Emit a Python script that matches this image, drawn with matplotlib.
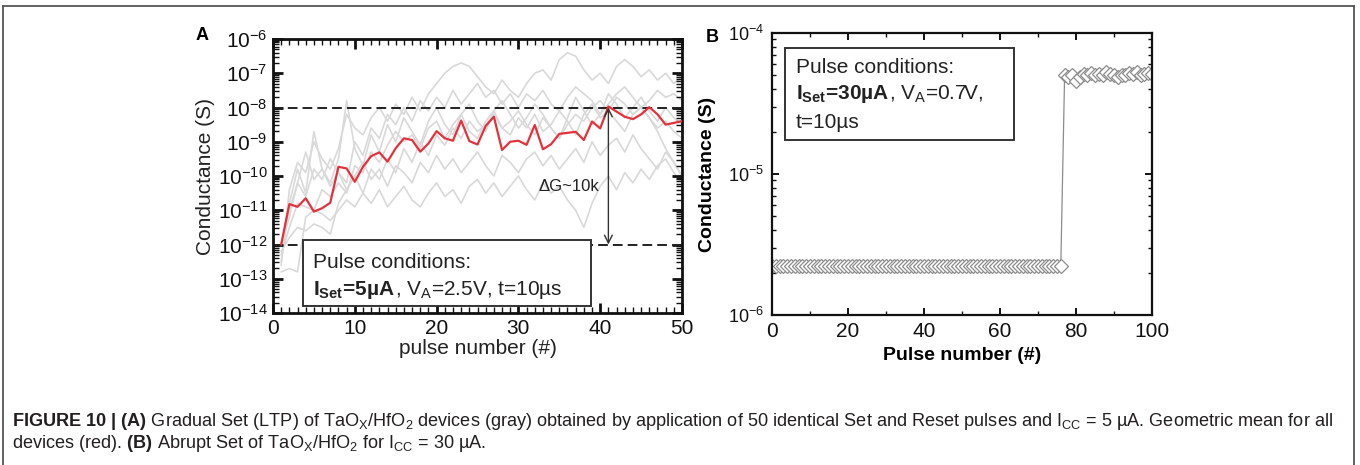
import numpy as np
import matplotlib
matplotlib.use("Agg")
import matplotlib.pyplot as plt
from matplotlib.ticker import LogLocator, MultipleLocator, NullFormatter, LogFormatterMathtext
from matplotlib.patches import Rectangle
from matplotlib.lines import Line2D

plt.rcParams['font.family'] = 'Liberation Sans'
plt.rcParams['mathtext.fontset'] = 'custom'
plt.rcParams['mathtext.rm'] = 'Liberation Sans'
plt.rcParams['mathtext.it'] = 'Liberation Sans:italic'
plt.rcParams['mathtext.bf'] = 'Liberation Sans:bold'
plt.rcParams['mathtext.default'] = 'regular'

###########################################################################
#                                 Data                                    #
###########################################################################

# panel A : log10 of conductance (S), pulses 1..50
pulse_a = np.arange(1, 51)

mean_red = [-12.0, -10.82, -10.90, -10.65, -11.04, -10.94, -10.78, -9.73, -9.78, -10.17,
            -9.73, -9.42, -9.31, -9.58, -9.19, -8.90, -8.95, -9.29, -9.05, -8.69,
            -8.90, -8.97, -8.38, -8.98, -9.08, -8.54, -8.27, -9.24, -9.00, -8.97,
            -9.09, -8.51, -9.22, -9.07, -8.77, -8.74, -8.71, -8.95, -8.41, -8.61,
            -7.97, -8.12, -8.27, -8.34, -8.20, -7.99, -8.20, -8.50, -8.45, -8.40]

gray_1 = [-12.6, -10.4, -9.6, -9.9, -9.0, -9.5, -9.8, -9.2, -8.2, -8.6,
          -8.8, -8.3, -8.0, -8.4, -7.9, -8.2, -7.7, -8.1, -7.6, -7.3,
          -7.0, -6.8, -6.7, -6.8, -7.1, -7.4, -7.6, -7.2, -7.5, -7.7,
          -7.3, -7.0, -6.9, -7.2, -6.6, -6.4, -6.5, -6.9, -7.2, -7.0,
          -7.3, -6.8, -6.6, -6.8, -7.1, -6.9, -7.2, -7.0, -7.3, -7.1]
gray_2 = [-12.0, -11.2, -10.2, -10.6, -9.8, -10.1, -9.5, -9.9, -10.2, -9.0,
          -9.4, -8.6, -8.9, -8.2, -8.5, -8.0, -8.4, -7.8, -8.1, -7.7,
          -8.0, -7.5, -7.9, -7.6, -7.3, -7.7, -7.5, -7.9, -7.6, -8.0,
          -7.6, -7.8, -7.5, -7.9, -8.1, -7.7, -7.4, -7.6, -7.8, -8.2,
          -7.9, -7.6, -7.4, -7.7, -8.0, -7.8, -7.5, -7.7, -7.6, -7.8]
gray_3 = [-12.3, -11.5, -10.8, -10.9, -11.0, -10.4, -10.6, -10.2, -10.5, -9.7,
          -9.9, -9.3, -9.6, -9.1, -8.7, -9.0, -8.8, -9.2, -8.6, -8.4,
          -8.9, -8.5, -8.2, -8.7, -8.9, -8.4, -8.1, -8.6, -8.8, -8.3,
          -8.6, -8.2, -8.7, -8.5, -8.1, -8.4, -8.8, -8.2, -7.9, -8.3,
          -8.1, -8.4, -8.7, -8.2, -8.0, -8.3, -8.6, -8.4, -8.7, -8.9]
gray_4 = [-12.0, -11.0, -10.2, -9.3, -10.1, -9.8, -10.3, -9.9, -10.4, -10.0,
          -9.6, -10.1, -9.8, -10.3, -9.7, -9.9, -10.2, -9.6, -9.9, -9.4,
          -9.8, -9.5, -9.9, -9.6, -9.3, -9.7, -10.0, -9.4, -9.6, -9.9,
          -9.5, -9.3, -9.7, -9.4, -9.8, -9.5, -9.2, -9.6, -9.0, -9.4,
          -9.1, -8.9, -9.3, -8.8, -9.2, -9.5, -9.8, -9.3, -9.6, -10.0]
gray_5 = [-12.8, -12.7, -12.8, -11.2, -11.0, -11.1, -11.3, -11.0, -10.7, -10.9,
          -10.5, -10.8, -10.4, -10.9, -10.6, -10.3, -10.7, -10.9, -10.5, -10.2,
          -10.6, -10.4, -10.8, -10.3, -10.1, -10.5, -10.2, -10.6, -10.3, -10.0,
          -10.4, -10.7, -10.2, -10.5, -10.3, -10.7, -11.0, -11.5, -10.8, -10.3,
          -10.0, -10.4, -9.9, -10.2, -9.8, -10.1, -9.7, -9.5, -9.9, -10.2]
gray_6 = [-12.2, -11.8, -11.5, -11.6, -11.4, -11.5, -11.7, -10.8, -10.4, -10.0,
          -10.5, -9.8, -10.1, -9.5, -9.9, -9.2, -9.6, -9.0, -9.4, -8.8,
          -9.1, -8.6, -8.9, -8.4, -8.7, -8.5, -8.2, -8.6, -8.4, -8.1,
          -8.5, -8.8, -8.3, -8.6, -8.9, -8.5, -8.2, -8.4, -8.0, -7.8,
          -8.1, -7.7, -7.9, -8.2, -8.0, -8.3, -8.7, -9.2, -9.6, -10.0]
gray_7 = [-12.5, -10.8, -9.8, -10.5, -8.7, -9.8, -10.2, -9.5, -7.8, -9.2,
          -9.7, -8.8, -9.3, -8.5, -9.0, -8.3, -8.7, -9.1, -8.4, -8.0,
          -8.5, -8.8, -8.2, -7.9, -8.4, -8.7, -8.1, -7.8, -8.2, -8.6,
          -8.3, -7.9, -8.2, -8.6, -8.9, -8.3, -7.7, -8.1, -8.5, -8.2,
          -7.6, -7.9, -8.3, -8.0, -7.7, -8.1, -8.4, -8.0, -8.3, -8.5]
gray_devices = [gray_1, gray_2, gray_3, gray_4, gray_5, gray_6, gray_7]

g_high = 1e-8          # dashed guide lines
g_low = 1e-12
arrow_pulse = 41

# panel B : conductance (S), pulses 0..100
pulse_b = np.arange(0, 101)
cond_b = [2.23e-6, 2.23e-6, 2.22e-6, 2.23e-6, 2.23e-6, 2.24e-6, 2.23e-6, 2.23e-6, 2.22e-6, 2.23e-6,
          2.23e-6, 2.23e-6, 2.24e-6, 2.23e-6, 2.23e-6, 2.22e-6, 2.23e-6, 2.23e-6, 2.23e-6, 2.24e-6,
          2.23e-6, 2.23e-6, 2.22e-6, 2.23e-6, 2.23e-6, 2.23e-6, 2.23e-6, 2.24e-6, 2.23e-6, 2.23e-6,
          2.22e-6, 2.23e-6, 2.23e-6, 2.23e-6, 2.24e-6, 2.23e-6, 2.23e-6, 2.23e-6, 2.22e-6, 2.23e-6,
          2.23e-6, 2.23e-6, 2.23e-6, 2.24e-6, 2.23e-6, 2.23e-6, 2.22e-6, 2.23e-6, 2.23e-6, 2.23e-6,
          2.24e-6, 2.23e-6, 2.23e-6, 2.23e-6, 2.22e-6, 2.23e-6, 2.23e-6, 2.23e-6, 2.24e-6, 2.23e-6,
          2.23e-6, 2.23e-6, 2.22e-6, 2.23e-6, 2.23e-6, 2.23e-6, 2.24e-6, 2.23e-6, 2.23e-6, 2.23e-6,
          2.22e-6, 2.23e-6, 2.23e-6, 2.23e-6, 2.24e-6, 2.23e-6, 2.23e-6,
          5.0e-5, 4.9e-5, 5.0e-5, 4.6e-5, 4.9e-5, 5.1e-5, 5.0e-5, 5.2e-5, 5.0e-5, 5.1e-5,
          5.0e-5, 5.3e-5, 5.1e-5, 5.0e-5, 4.9e-5, 5.0e-5, 5.0e-5, 5.2e-5, 5.1e-5, 5.3e-5,
          5.0e-5, 5.1e-5, 5.2e-5, 5.1e-5]

caption_1 = (r"$\mathbf{FIGURE\ 10\ |\ (A)}$ Gradual Set (LTP) of TaO$_\mathrm{X}$/HfO$_2$ devices (gray) "
             r"obtained by application of 50 identical Set and Reset pulses and I$_\mathrm{CC}$ = 5 µA. "
             r"Geometric mean for all")
caption_2 = r"devices (red). $\mathbf{(B)}$ Abrupt Set of TaO$_\mathrm{X}$/HfO$_2$ for I$_\mathrm{CC}$ = 30 µA."

###########################################################################
#                                 Figure                                  #
###########################################################################

W, H = 1360, 465
fig = plt.figure(figsize=(W / 100, H / 100), dpi=100)
fig.patch.set_facecolor('white')

def px_axes(x0, y0, x1, y1):
    # pixel box (top-left origin) -> figure axes
    return fig.add_axes([x0 / W, 1 - y1 / H, (x1 - x0) / W, (y1 - y0) / H])

def bold_then_plain(ax, x, y, bold, plain):
    # bold part (non-math text picks up the weight), plain part glued after it
    t = ax.text(x, y, bold, transform=ax.transAxes, fontsize=15, fontweight='bold',
                va='center', ha='left', color='#222222', zorder=6)
    ax.annotate(plain, xy=(1, 0), xycoords=t, va='bottom', ha='left', fontsize=15,
                color='#222222', zorder=6)

# outer frame of the figure panel
frame_col = '#555555'
fig.add_artist(Line2D([3 / W, 1354 / W], [1 - 6 / H, 1 - 6 / H], color=frame_col, lw=1.3))
fig.add_artist(Line2D([3 / W, 3 / W], [0, 1 - 6 / H], color=frame_col, lw=1.3))
fig.add_artist(Line2D([1354 / W, 1354 / W], [0, 1 - 6 / H], color=frame_col, lw=1.3))

# ---------------------------- panel A -----------------------------------
axA = px_axes(273, 39, 682, 313)
for g in gray_devices:
    axA.plot(pulse_a, 10.0 ** np.array(g), color='#d9d9d9', lw=1.2, zorder=1)
axA.plot(pulse_a, 10.0 ** np.array(mean_red), color='#e4323c', lw=1.6, zorder=3)

axA.axhline(g_high, color='#222222', lw=1.4, dashes=(5, 2.6), zorder=2)
axA.axhline(g_low, color='#222222', lw=1.4, dashes=(5, 2.6), zorder=2)
axA.annotate('', xy=(arrow_pulse, g_high), xytext=(arrow_pulse, g_low),
             arrowprops=dict(arrowstyle='<->', color='#333333', lw=1.0,
                             shrinkA=0, shrinkB=0, mutation_scale=14), zorder=4)
axA.text(arrow_pulse - 4.8, 4.8e-11, u'\u0394G~10k', fontsize=12, color='#222222',
         ha='center', va='center')

axA.set_yscale('log')
axA.set_xlim(0, 50)
axA.set_ylim(1e-14, 1e-6)
axA.set_yticks(10.0 ** np.arange(-14, -5))
axA.yaxis.set_major_formatter(LogFormatterMathtext())
axA.yaxis.set_minor_locator(LogLocator(base=10, subs=np.arange(2, 10), numticks=100))
axA.yaxis.set_minor_formatter(NullFormatter())
axA.xaxis.set_major_locator(MultipleLocator(10))
axA.xaxis.set_minor_locator(MultipleLocator(1))
axA.tick_params(which='both', direction='in', top=True, right=True, labelsize=15,
                colors='#111111', pad=4)
axA.tick_params(which='major', length=7, width=2)
axA.tick_params(which='minor', length=4, width=1)
for s in axA.spines.values():
    s.set_linewidth(2)
    s.set_color('#111111')
axA.set_xlabel('pulse number (#)', fontsize=15, labelpad=1, color='#222222')
axA.set_ylabel('Conductance (S)', fontsize=15, labelpad=2, color='#222222')

axA.add_patch(Rectangle((0.073, 0.026), 0.705, 0.24, transform=axA.transAxes,
                        facecolor='white', edgecolor='#333333', lw=1.4, zorder=5))
axA.text(0.098, 0.186, 'Pulse conditions:', transform=axA.transAxes, fontsize=15,
         va='center', ha='left', color='#222222', zorder=6)
bold_then_plain(axA, 0.098, 0.084, r'I$_\mathbf{Set}$=5µA', r', V$_\mathrm{A}$=2.5V, t=10µs')

fig.text(202 / W, 1 - 35 / H, 'A', fontsize=13, fontweight='bold', ha='center', va='center')

# ---------------------------- panel B -----------------------------------
axB = px_axes(772, 33, 1152, 315)
axB.plot(pulse_b, cond_b, color='#8c8c8c', lw=0.9, marker='D', ms=7,
         mfc='white', mec='#8c8c8c', mew=0.9)
axB.set_yscale('log')
axB.set_xlim(0, 100)
axB.set_ylim(1e-6, 1e-4)
axB.set_yticks([1e-6, 1e-5, 1e-4])
axB.yaxis.set_major_formatter(LogFormatterMathtext())
axB.yaxis.set_minor_locator(LogLocator(base=10, subs=np.arange(2, 10), numticks=100))
axB.yaxis.set_minor_formatter(NullFormatter())
axB.xaxis.set_major_locator(MultipleLocator(20))
axB.xaxis.set_minor_locator(MultipleLocator(10))
axB.tick_params(which='both', direction='in', top=True, right=True, labelsize=15,
                colors='#111111', pad=5)
axB.tick_params(axis='y', labelsize=13, pad=6)
axB.tick_params(which='major', length=5, width=1.4)
axB.tick_params(which='minor', length=3, width=1)
for s in axB.spines.values():
    s.set_linewidth(1.6)
    s.set_color('#111111')
axB.set_xlabel('Pulse number (#)', fontsize=14, fontweight='bold', labelpad=4)
axB.set_ylabel('Conductance (S)', fontsize=14, fontweight='bold', labelpad=8)

axB.add_patch(Rectangle((0.034, 0.621), 0.603, 0.326, transform=axB.transAxes,
                        facecolor='white', edgecolor='#333333', lw=1.4, zorder=5))
axB.text(0.063, 0.876, 'Pulse conditions:', transform=axB.transAxes, fontsize=15,
         va='center', ha='left', color='#222222', zorder=6)
bold_then_plain(axB, 0.063, 0.782, r'I$_\mathbf{Set}$=30µA', r', V$_\mathrm{A}$=0.7V,')
axB.text(0.063, 0.684, 't=10µs', transform=axB.transAxes, fontsize=15,
         va='center', ha='left', color='#222222', zorder=6)

fig.text(712 / W, 1 - 37 / H, 'B', fontsize=13, fontweight='bold', ha='center', va='center')

# ---------------------------- caption -----------------------------------
fig.text(12 / W, 1 - 422 / H, caption_1, fontsize=13.1, ha='left', va='center', color='#231f20')
fig.text(12 / W, 1 - 443 / H, caption_2, fontsize=13.1, ha='left', va='center', color='#231f20')

fig.savefig('out.png', dpi=100, facecolor='white')
